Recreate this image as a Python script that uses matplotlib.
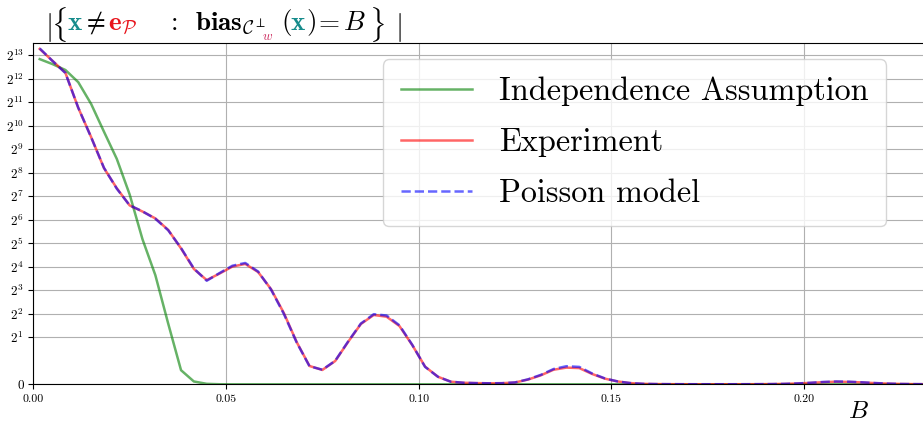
import matplotlib

matplotlib.use("Agg")

import matplotlib.pyplot as plt
from matplotlib.ticker import FixedLocator, NullLocator

plt.rcParams["font.family"] = "serif"
plt.rcParams["font.serif"] = ["cmr10"]
plt.rcParams["mathtext.fontset"] = "cm"
plt.rcParams["axes.formatter.use_mathtext"] = True

# histogram bins of the bias B (bin width 1/300, values at bin centres)
BIN_WIDTH = 1 / 300
N_BINS = 70
bias = [(k + 0.5) * BIN_WIDTH for k in range(N_BINS)]

experiment = [
    9870, 6930, 4870, 1735, 734, 294, 162, 97.7, 81.6, 66.6,
    47.4, 27.5, 15.0, 10.8, 13.1, 16.1, 17.4, 13.7, 8.3, 4.1,
    1.74, 0.78, 0.61, 0.99, 1.74, 2.96, 3.86, 3.67, 2.79, 1.59,
    0.75, 0.32, 0.11, 0.065, 0.05, 0.043, 0.047, 0.077, 0.2, 0.38,
    0.62, 0.71, 0.69, 0.44, 0.24, 0.12, 0.05, 0.02, 0.01, 0.006,
    0.004, 0.003, 0.003, 0.003, 0.003, 0.004, 0.006, 0.01, 0.018, 0.035,
    0.06, 0.09, 0.11, 0.10, 0.08, 0.05, 0.03, 0.015, 0.008, 0.005,
]
poisson = [
    10000, 6900, 4850, 1740, 730, 296, 160, 98.0, 82.0, 66.0,
    47.0, 27.8, 15.2, 10.6, 13.3, 16.5, 17.9, 13.9, 8.2, 4.0,
    1.72, 0.77, 0.62, 1.0, 1.76, 3.0, 3.95, 3.8, 2.85, 1.6,
    0.74, 0.32, 0.11, 0.065, 0.05, 0.043, 0.048, 0.08, 0.21, 0.4,
    0.65, 0.77, 0.74, 0.46, 0.25, 0.12, 0.05, 0.02, 0.01, 0.006,
    0.004, 0.003, 0.003, 0.003, 0.003, 0.004, 0.006, 0.01, 0.019, 0.037,
    0.065, 0.1, 0.12, 0.11, 0.085, 0.055, 0.03, 0.015, 0.008, 0.005,
]
independence = [
    7300, 6300, 5300, 3700, 1950, 860, 385, 135, 36, 12.5,
    3.0, 0.6, 0.12, 0.02, 0.003, 0, 0, 0, 0, 0,
] + [0] * 50

y_exponents = list(range(1, 14))
x_ticks = [0.0, 0.05, 0.10, 0.15, 0.20]

W, H = 923, 422
TEAL = "#178c8c"
RED = "#e8141c"
PINK = "#cc2a5e"


def fpos(x, y_top):
    """pixel position (from top-left) -> figure fraction"""
    return x / W, 1 - y_top / H


fig = plt.figure(figsize=(W / 100, H / 100), dpi=100)
ax = fig.add_axes([33.3 / W, (H - 384.3) / H, 891.4 / W, (384.3 - 43) / H])

ax.plot(bias, independence, color="green", alpha=0.6, lw=1.8, label="Independence Assumption")
ax.plot(bias, experiment, color="red", alpha=0.6, lw=1.8, label="Experiment")
ax.plot(bias, poisson, color="blue", alpha=0.6, lw=1.8, ls="--", label="Poisson model")

ax.set_yscale("symlog", base=2, linthresh=1, linscale=0.5)
ax.set_xlim(0, 0.2313)
ax.set_ylim(0, 2 ** 13.52)

ax.yaxis.set_major_locator(FixedLocator([0] + [2 ** e for e in y_exponents]))
ax.set_yticklabels(["0"] + [rf"$2^{{{e}}}$" for e in y_exponents])
ax.yaxis.set_minor_locator(NullLocator())
ax.set_xticks(x_ticks)
ax.set_xticklabels([f"{t:.2f}" for t in x_ticks])
ax.tick_params(axis="x", labelsize=8.5)
ax.tick_params(axis="y", labelsize=9.5)
ax.grid(True, color="#b0b0b0", lw=0.8)

leg = ax.legend(
    loc="upper right",
    bbox_to_anchor=(0.975, 1.0),
    fontsize=23.2,
    borderpad=0.55,
    labelspacing=0.68,
    handlelength=2.2,
    handletextpad=0.85,
)

fig.text(*fpos(858, 417.5), r"$B$", fontsize=18, ha="center", va="baseline")

# title, assembled from pieces so parts can be coloured
base = 29.5
title_pieces = [
    (r"$|$", "black", 21, 45, base + 5.5),
    (r"$\{$", "black", 21, 51, base + 5.5),
    (r"$\mathbf{x}$", TEAL, 19.5, 67, base),
    (r"$\neq$", "black", 19.5, 82, base),
    (r"$\mathbf{e}_{\mathcal{P}}$", RED, 19.5, 108, base),
    (r"$:$", "black", 19.5, 166, base),
    (r"$\mathbf{bias}_{\mathcal{C}^{\perp}}$", "black", 19.5, 195, base),
    (r"$w$", PINK, 9.5, 262, base + 11),
    (r"$($", "black", 19.5, 281, base),
    (r"$\mathbf{x}$", TEAL, 19.5, 290, base),
    (r"$)$", "black", 19.5, 306, base),
    (r"$=$", "black", 19.5, 314, base),
    (r"$B$", "black", 19.5, 343, base),
    (r"$\}$", "black", 21, 369, base + 5.5),
    (r"$|$", "black", 21, 395, base + 5.5),
]
for text, color, size, x, y in title_pieces:
    fig.text(*fpos(x, y), text, color=color, fontsize=size, ha="left", va="baseline")

fig.savefig("out.png", dpi=100)
plt.close(fig)
